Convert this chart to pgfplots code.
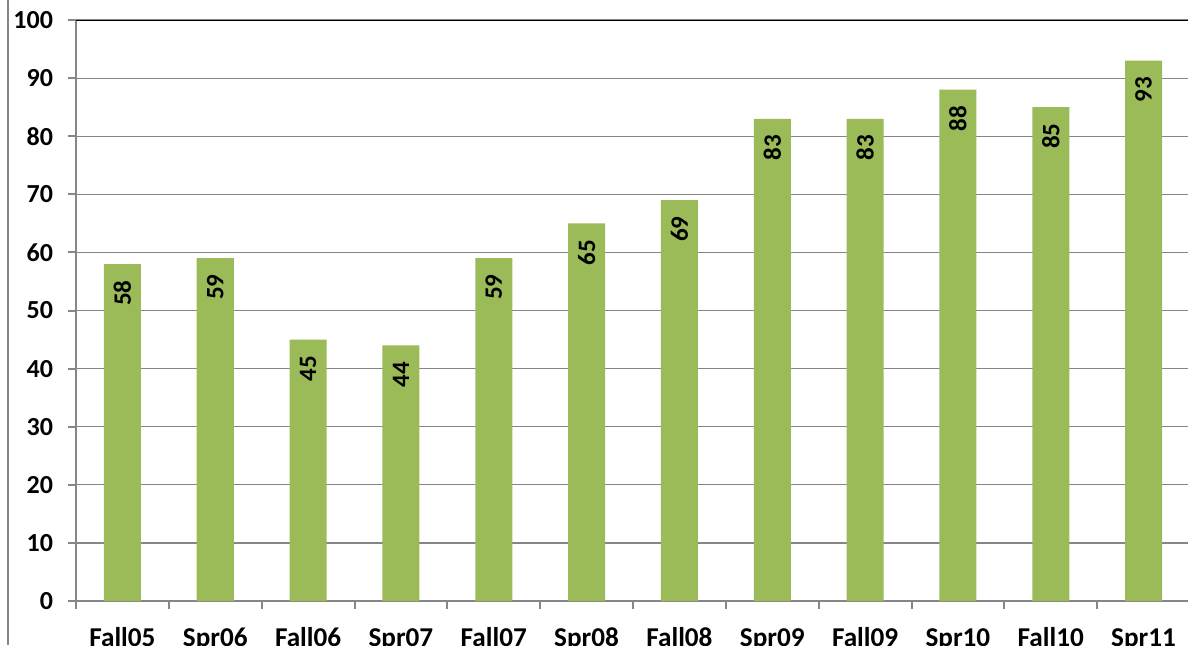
\documentclass[border=0pt]{standalone}
\usepackage{fontspec}
\setmainfont{Carlito}
\usepackage{pgfplots}
\pgfplotsset{compat=1.18}
\definecolor{barGreen}{HTML}{9BBB59}
\definecolor{gridGray}{HTML}{868686}
\begin{document}
\begin{tikzpicture}[x=1pt,y=1pt]
% image is 1188x645 px, 1px = 0.5pt, axis origin at px (76,601)
\useasboundingbox (-38,-22) rectangle (556,300.5);
\clip (-38,-22) rectangle (556,300.5);
\draw[gridGray, line width=0.9pt] (-34,-22) -- (-34,300.5);
\begin{axis}[
  at={(0,0)}, anchor=south west,
  scale only axis,
  width=557pt, height=290.5pt,
  xmin=-0.5, xmax=11.5,
  ymin=0, ymax=100,
  ytick={0,10,...,100},
  xtick={-0.5,0.5,...,11.5},
  xticklabels={},
  extra x ticks={0,1,...,11},
  extra x tick labels={Fall05,Spr06,Fall06,Spr07,Fall07,Spr08,Fall08,Spr09,Fall09,Spr10,Fall10,Spr11},
  extra x tick style={major tick length=0pt, grid=none,
    xticklabel style={yshift=-9.5pt, text height=9.5pt,
      font=\fontsize{13.6}{15}\selectfont\bfseries}},
  axis x line*=bottom, axis y line*=left,
  axis line style={gridGray, line width=1pt},
  tick align=outside,
  major tick length=4pt,
  tick style={gridGray, line width=1pt},
  ymajorgrids,
  major grid style={gridGray, line width=0.6pt},
  ticklabel style={font=\fontsize{13}{15}\selectfont\bfseries},
  yticklabel style={xshift=-4pt},
  /pgf/number format/assume math mode=true,
  ybar, bar width=18.5pt,
  nodes near coords,
  every node near coord/.append style={rotate=90, anchor=east,
    font=\fontsize{12.5}{14}\selectfont\bfseries, inner xsep=8pt},
]
\addplot[fill=barGreen, draw=none] coordinates {
(0,58) (1,59) (2,45) (3,44) (4,59) (5,65)
(6,69) (7,83) (8,83) (9,88) (10,85) (11,93)
};
\draw[black, line width=1.2pt] (axis cs:-0.5,100) -- (axis cs:11.5,100);
\end{axis}
\end{tikzpicture}
\end{document}
